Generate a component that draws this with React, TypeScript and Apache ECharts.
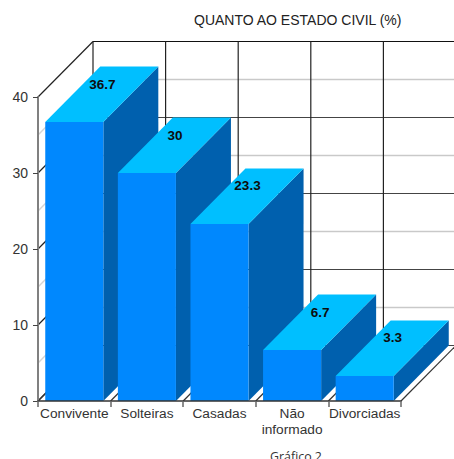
import React, { useEffect, useRef } from "react";
import * as echarts from "echarts";

const categories = ["Convivente", "Solteiras", "Casadas", "Não\ninformado", "Divorciadas"];
const percentages = [36.7, 30, 23.3, 6.7, 3.3];
const majorLevels = [0, 10, 20, 30, 40];
const minorLevels = [5, 15, 25, 35];

const DEPTH_X = 55;
const DEPTH_Y = 55.5;
const BAR_RATIO = 0.8;
const FONT = '"Liberation Sans", Arial, sans-serif';

function wallLevel(major: boolean) {
  return (params: any, api: any) => {
    const level = api.value(1);
    const y = api.coord([0, level])[1];
    const { x, width } = params.coordSys;
    const stroke = major ? (level === 40 ? "#111" : "#444") : "#c9c9c9";
    const lineWidth = major ? 1.2 : 1.4;
    return {
      type: "group",
      children: [
        {
          type: "line",
          shape: { x1: x + DEPTH_X, y1: y - DEPTH_Y, x2: x + width + DEPTH_X, y2: y - DEPTH_Y },
          style: { stroke, lineWidth },
        },
        {
          type: "line",
          shape: { x1: x, y1: y, x2: x + DEPTH_X, y2: y - DEPTH_Y },
          style: { stroke: major ? "#222" : "#d4d4d4", lineWidth },
        },
      ],
    };
  };
}

// Back-wall verticals and floor diagonals start at the edges of each category band.
function bandEdges(params: any, api: any) {
  const band = api.size([1, 0])[0];
  const index = api.value(0);
  const cx = api.coord([index, 0])[0];
  const base = api.coord([index, 0])[1];
  const top = api.coord([index, 40])[1];
  const left = cx - band / 2;
  const children: any[] = [
    {
      type: "line",
      shape: { x1: left + DEPTH_X, y1: top - DEPTH_Y, x2: left + DEPTH_X, y2: base - DEPTH_Y },
      style: { stroke: "#222", lineWidth: 1.2 },
    },
    {
      type: "line",
      shape: { x1: left, y1: base, x2: left + DEPTH_X, y2: base - DEPTH_Y },
      style: { stroke: "#333", lineWidth: 1.2 },
    },
  ];
  if (index === categories.length - 1) {
    const right = cx + band / 2;
    children.push({
      type: "line",
      shape: { x1: right, y1: base, x2: right + DEPTH_X, y2: base - DEPTH_Y },
      style: { stroke: "#333", lineWidth: 1.2 },
    });
  }
  return { type: "group", children };
}

function solidBar(_params: any, api: any) {
  const index = api.value(0);
  const value = api.value(1);
  const [cx, top] = api.coord([index, value]);
  const base = api.coord([index, 0])[1];
  const half = (api.size([1, 0])[0] * BAR_RATIO) / 2;
  const l = cx - half;
  const r = cx + half;
  return {
    type: "group",
    children: [
      {
        type: "polygon",
        shape: { points: [[r, base], [r + DEPTH_X, base - DEPTH_Y], [r + DEPTH_X, top - DEPTH_Y], [r, top]] },
        style: { fill: "#0060ae" },
      },
      {
        type: "polygon",
        shape: { points: [[l, top], [r, top], [r + DEPTH_X, top - DEPTH_Y], [l + DEPTH_X, top - DEPTH_Y]] },
        style: { fill: "#00bfff" },
      },
      {
        type: "rect",
        shape: { x: l, y: top, width: r - l, height: base - top },
        style: { fill: "#0088fe" },
      },
      {
        type: "text",
        x: cx + DEPTH_X / 2 + 0.5,
        y: top - 38,
        style: {
          text: String(value),
          fill: "#0d0d0d",
          font: `bold 13.5px ${FONT}`,
          align: "center",
          verticalAlign: "middle",
        },
      },
    ],
  };
}

export default function App() {
  const ref = useRef<HTMLDivElement>(null);

  useEffect(() => {
    if (!ref.current) return;
    const chart = echarts.init(ref.current, undefined, { renderer: "svg" });
    chart.setOption({
      animation: false,
      backgroundColor: "#fff",
      grid: { left: 38, top: 97, width: 363, height: 304 },
      title: [
        {
          text: "QUANTO AO ESTADO CIVIL (%)",
          left: 194,
          top: 13,
          padding: 0,
          textStyle: { fontFamily: FONT, fontSize: 14, fontWeight: "normal", color: "#222" },
        },
        {
          text: "Gráfico 2",
          left: 270,
          top: 450,
          padding: 0,
          textStyle: { fontFamily: '"Open Sans", sans-serif', fontSize: 12.4, fontWeight: "normal", color: "#333" },
        },
      ],
      xAxis: {
        type: "category",
        data: categories,
        z: 5,
        axisLine: { show: true, lineStyle: { color: "#333", width: 1.5 } },
        axisTick: { show: true, alignWithLabel: false, length: 6, lineStyle: { color: "#666", width: 1.5 } },
        axisLabel: {
          interval: 0,
          margin: 4,
          fontFamily: FONT,
          fontSize: 13.7,
          lineHeight: 16,
          color: "#333",
        },
      },
      yAxis: {
        type: "value",
        min: 0,
        max: 40,
        interval: 10,
        z: 5,
        splitLine: { show: false },
        axisLine: { show: true, lineStyle: { color: "#808080", width: 2 } },
        axisTick: { show: true, length: 5, lineStyle: { color: "#444", width: 1 } },
        axisLabel: { margin: 10, fontFamily: FONT, fontSize: 14, color: "#333" },
      },
      series: [
        {
          type: "custom",
          z: 1,
          silent: true,
          clip: false,
          renderItem: wallLevel(false),
          data: minorLevels.map((v) => [0, v]),
        },
        {
          type: "custom",
          z: 1,
          silent: true,
          clip: false,
          renderItem: wallLevel(true),
          data: majorLevels.map((v) => [0, v]),
        },
        {
          type: "custom",
          z: 1,
          silent: true,
          clip: false,
          renderItem: bandEdges,
          data: categories.map((_, i) => [i, 0]),
        },
        {
          type: "custom",
          z: 2,
          silent: true,
          clip: false,
          renderItem: solidBar,
          data: percentages.map((v, i) => [i, v]),
        },
      ],
    });
    return () => chart.dispose();
  }, []);

  return (
    <div
      ref={ref}
      style={{ position: "absolute", left: 0, top: 0, width: 454, height: 459, overflow: "hidden" }}
    />
  );
}
